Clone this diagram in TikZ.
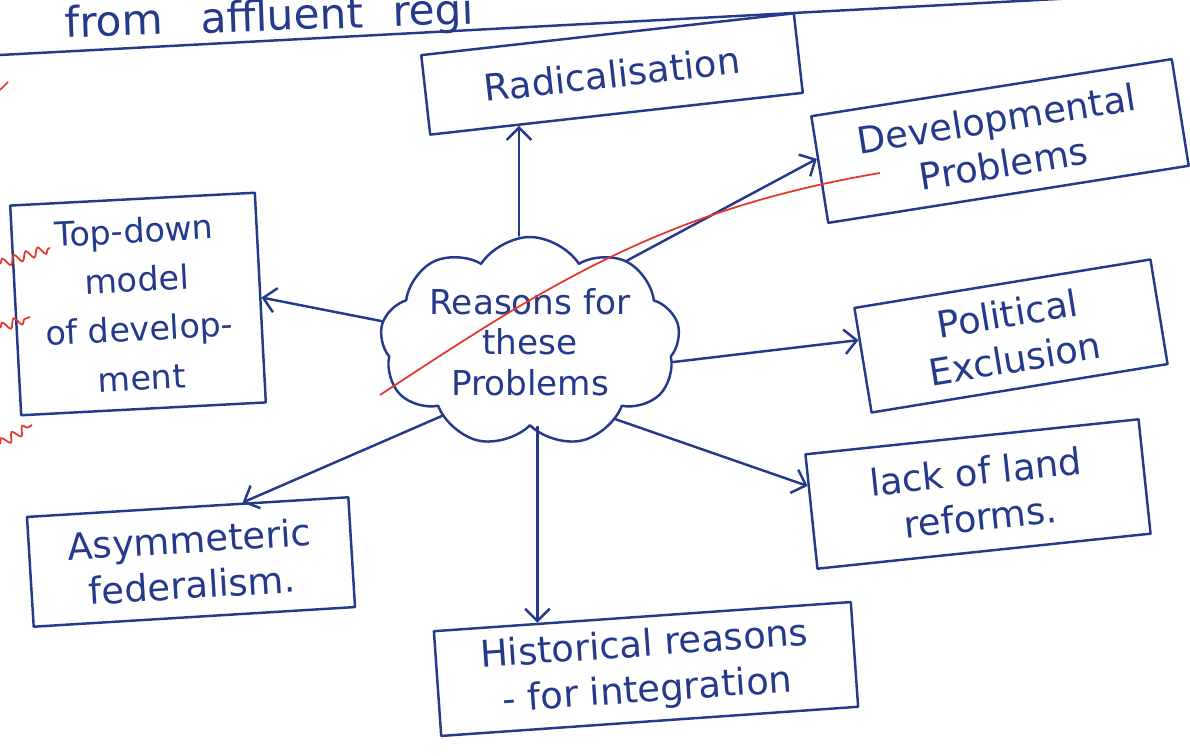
\documentclass[tikz,border=0pt]{standalone}
\usepackage{fontspec}
\setmainfont{DejaVu Sans}
\usetikzlibrary{shapes.symbols,calc,arrows.meta,decorations.pathmorphing}
\definecolor{ink}{RGB}{38,58,140}
\definecolor{redink}{RGB}{228,55,45}
\begin{document}
\begin{tikzpicture}[x=0.02cm,y=-0.02cm,
  pen/.style={draw=ink,line width=1.4pt,line cap=round,line join=round},
  box/.style={pen,text=ink,align=center,inner sep=4pt,
    font=\fontsize{21}{26}\selectfont},
  arr/.style={pen,-{Straight Barb[length=7pt,width=14pt,line width=1.4pt]}},
  squig/.style={draw=redink,line width=1pt,decorate,
    decoration={snake,amplitude=2.5pt,segment length=7pt}}]
\useasboundingbox[fill=white] (0,0) rectangle (1190,756);

% ruled line and the end of the previous sentence
\draw[pen] (0,55) -- (1190,-8);
\node[text=ink,anchor=base west,rotate=2,inner sep=0pt,
  font=\fontsize{24}{28}\selectfont]
  (prev) at (65,38) {from\hspace{0.9em}affluent\hspace{0.7em}regi};

% central cloud, outline and text
\node[cloud,pen,cloud puffs=9,cloud puff arc=115,aspect=1.45,
  minimum width=6.0cm,minimum height=4.2cm,inner sep=0pt] (cl)
  at (530,342) {};
\node[text=ink,align=center,font=\fontsize{19.5}{23}\selectfont] (cltxt)
  at (cl.center) {Reasons for\\these\\Problems};

% surrounding boxes
\node[box,rotate=6.4,minimum width=7.5cm,minimum height=1.6cm] (rad)
  at (612,74) {Radicalisation};
\node[box,rotate=9,minimum width=7.3cm,minimum height=2.16cm] (dev)
  at (1000,141) {Developmental\\Problems};
\node[box,rotate=9.3,minimum width=6.0cm,minimum height=2.12cm] (pol)
  at (1011,336) {Political\\Exclusion};
\node[box,rotate=6,minimum width=6.7cm,minimum height=2.3cm] (lack)
  at (978,494) {lack of land\\reforms.};
\node[box,rotate=4,minimum width=8.36cm,minimum height=2.1cm] (hist)
  at (646,669) {Historical reasons\\- for integration};
\node[box,rotate=3.5,minimum width=6.44cm,minimum height=2.2cm] (asym)
  at (191,562) {Asymmeteric\\federalism.};
\node[box,rotate=3,minimum width=4.9cm,minimum height=4.2cm,
  font=\fontsize{19}{28}\selectfont] (td)
  at (138,304) {Top-down\\model\\of develop-\\ment};

% arrows from the cloud
\coordinate (radin) at ($(rad.south west)!0.24!(rad.south east)$);
\coordinate (devin) at ($(dev.south west)!0.6!(dev.north west)$);
\coordinate (tdin) at ($(td.south east)!0.5!(td.north east)$);
\coordinate (polin) at ($(pol.south west)!0.69!(pol.north west)$);
\coordinate (lackin) at ($(lack.south west)!0.72!(lack.north west)$);
\coordinate (histin) at ($(hist.north west)!0.25!(hist.north east)$);
\coordinate (asymin) at ($(asym.north west)!0.67!(asym.north east)$);

\draw[arr] (radin |- cl.north) -- (radin);
\draw[arr] (cl.40) -- (devin);
\draw[arr] (cl.172) -- (tdin);
\draw[arr] (cl.-8) -- (polin);
\draw[arr] (cl.-42) -- (lackin);
\draw[arr] (histin |- cl.south) -- (histin);
\draw[arr] (cl.220) -- (asymin);

% red pen strike and margin marks
\coordinate (s0) at (380,395);
\coordinate (s1) at (880,173);
\draw[redink,line width=1pt] (s0) .. controls (540,290) and (660,210) .. (s1);
\draw[squig] (0,264) -- (50,248);
\draw[squig] (0,328) -- (30,317);
\draw[squig] (0,444) -- (32,425);
\draw[redink,line width=1pt] (0,90) -- (8,82);
\end{tikzpicture}
\end{document}
